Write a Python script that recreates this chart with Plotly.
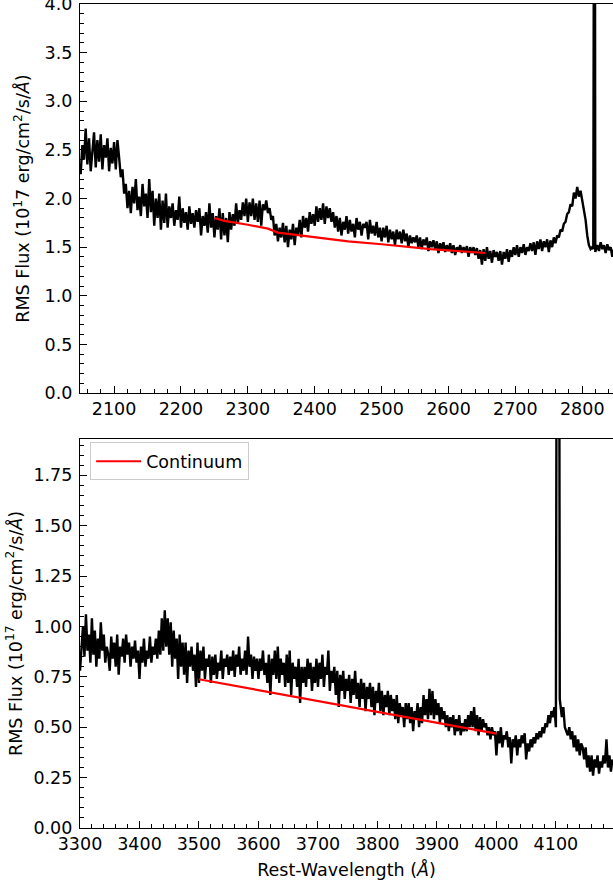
import plotly.graph_objects as go
from plotly.subplots import make_subplots

STEP = 2.5

# ---------------- Top panel (Mg II region) ----------------
# flux sampled every 2.5 A starting at 2050 A, up to 2815 A
flux_top_main = [
    2.25, 2.55, 2.40, 2.72, 2.35, 2.62, 2.28, 2.50, 2.68, 2.32,
    2.60, 2.38, 2.66, 2.30, 2.55, 2.42, 2.62, 2.28, 2.52, 2.36,
    2.58, 2.30, 2.60, 2.42, 2.22, 2.30, 2.05, 2.15, 1.90, 2.08,
    1.85, 2.12, 1.95, 2.20, 1.88, 2.02, 1.82, 2.15, 1.92, 2.05,
    1.80, 2.20, 1.86, 2.08, 1.72, 2.00, 1.80, 2.05, 1.68, 1.98,
    1.75, 2.05, 1.70, 1.92, 1.80, 1.95, 1.72, 1.88, 1.78, 2.02,
    1.70, 1.90, 1.75, 1.86, 1.68, 1.92, 1.74, 1.85, 1.70, 1.88,
    1.76, 1.90, 1.62, 1.82, 1.72, 1.86, 1.65, 1.95, 1.70, 1.85,
    1.60, 1.82, 1.68, 1.90, 1.58, 1.85, 1.62, 1.80, 1.55, 1.86,
    1.68, 1.84, 1.72, 1.95, 1.74, 1.88, 1.78, 1.96, 1.82, 2.00,
    1.76, 1.96, 1.82, 2.00, 1.78, 1.95, 1.76, 1.98, 1.72, 1.94,
    1.88, 1.98, 1.85, 1.90, 1.78, 1.82, 1.62, 1.74, 1.56, 1.70,
    1.60, 1.75, 1.55, 1.72, 1.50, 1.68, 1.58, 1.74, 1.52, 1.70,
    1.62, 1.78, 1.60, 1.82, 1.70, 1.80, 1.66, 1.86, 1.74, 1.84,
    1.72, 1.92, 1.76, 1.90, 1.78, 1.95, 1.74, 1.92, 1.80, 1.90,
    1.76, 1.86, 1.70, 1.82, 1.66, 1.80, 1.62, 1.76, 1.68, 1.82,
    1.64, 1.78, 1.66, 1.74, 1.60, 1.80, 1.68, 1.76, 1.62, 1.74,
    1.70, 1.76, 1.58, 1.78, 1.64, 1.72, 1.62, 1.76, 1.60, 1.70,
    1.56, 1.70, 1.60, 1.72, 1.55, 1.68, 1.58, 1.66, 1.52, 1.68,
    1.58, 1.66, 1.54, 1.68, 1.56, 1.64, 1.50, 1.62, 1.54, 1.60,
    1.55, 1.62, 1.50, 1.60, 1.48, 1.58, 1.52, 1.60, 1.46, 1.56,
    1.50, 1.57, 1.48, 1.56, 1.44, 1.54, 1.48, 1.55, 1.45, 1.52,
    1.46, 1.54, 1.44, 1.52, 1.42, 1.50, 1.46, 1.52, 1.44, 1.50,
    1.45, 1.51, 1.40, 1.50, 1.44, 1.50, 1.42, 1.49, 1.38, 1.47,
    1.32, 1.48, 1.36, 1.50, 1.38, 1.46, 1.34, 1.47, 1.40, 1.45,
    1.36, 1.46, 1.32, 1.45, 1.38, 1.48, 1.35, 1.47, 1.40, 1.50,
    1.42, 1.52, 1.40, 1.50, 1.44, 1.53, 1.42, 1.50, 1.46, 1.54,
    1.46, 1.55, 1.42, 1.56, 1.48, 1.58, 1.46, 1.56, 1.50, 1.58,
    1.45, 1.57, 1.50, 1.60, 1.54, 1.62, 1.60, 1.68, 1.66, 1.74,
    1.76, 1.84, 1.86, 1.94, 1.92, 2.06, 2.00, 2.12, 2.02, 2.08,
    1.98, 1.90, 1.78, 1.62, 1.52, 1.48, 1.50,
]
# narrow emission line near 2818 A
wave_top_line = [2816.5, 2817.5, 2818.5, 2819.5]
flux_top_line = [1.48, 9.0, 9.0, 1.45]
# red side after the narrow line, every 2.5 A from 2822.5 A
flux_top_tail = [1.52, 1.46, 1.55, 1.48, 1.52, 1.44, 1.53, 1.47, 1.50, 1.40, 1.48, 1.45]

cont_top_wave = [2250, 2265, 2300, 2330, 2345, 2400, 2450, 2500, 2573, 2655]
cont_top_flux = [1.80, 1.77, 1.73, 1.69, 1.65, 1.60, 1.56, 1.53, 1.48, 1.44]

# ---------------- Bottom panel ----------------
# flux sampled every 2.5 A starting at 3300 A, up to 4097.5 A
flux_bot_main = [
    0.78, 0.92, 1.00, 0.85, 1.06, 0.88, 0.96, 0.82, 1.04, 0.86,
    0.98, 0.80, 0.94, 0.84, 1.02, 0.88, 0.96, 0.82, 0.90, 0.86,
    0.78, 0.95, 0.84, 0.92, 0.80, 0.96, 0.76, 0.90, 0.85, 0.94,
    0.82, 0.96, 0.86, 0.92, 0.80, 0.90, 0.84, 0.93, 0.82, 0.88,
    0.74, 0.90, 0.82, 0.94, 0.80, 0.88, 0.84, 0.95, 0.82, 0.90,
    0.86, 0.94, 0.84, 0.98, 0.86, 1.04, 0.88, 1.08, 0.90, 1.04,
    0.86, 1.02, 0.80, 0.98, 0.84, 0.94, 0.74, 0.96, 0.80, 0.92,
    0.76, 0.92, 0.72, 0.88, 0.80, 0.90, 0.78, 0.86, 0.70, 0.92,
    0.72, 0.88, 0.78, 0.90, 0.74, 0.84, 0.80, 0.86, 0.72, 0.85,
    0.76, 0.86, 0.74, 0.82, 0.78, 0.88, 0.74, 0.84, 0.80, 0.86,
    0.76, 0.85, 0.78, 0.88, 0.75, 0.86, 0.80, 0.90, 0.76, 0.84,
    0.78, 0.88, 0.76, 0.95, 0.80, 0.86, 0.74, 0.85, 0.78, 0.84,
    0.74, 0.84, 0.78, 0.88, 0.76, 0.82, 0.72, 0.86, 0.66, 0.84,
    0.76, 0.88, 0.74, 0.90, 0.72, 0.84, 0.76, 0.82, 0.70, 0.86,
    0.72, 0.88, 0.66, 0.82, 0.74, 0.80, 0.70, 0.84, 0.62, 0.80,
    0.72, 0.80, 0.70, 0.84, 0.74, 0.82, 0.68, 0.80, 0.72, 0.84,
    0.70, 0.82, 0.74, 0.86, 0.70, 0.80, 0.76, 0.88, 0.68, 0.78,
    0.72, 0.80, 0.66, 0.78, 0.60, 0.76, 0.68, 0.78, 0.64, 0.74,
    0.68, 0.76, 0.62, 0.74, 0.66, 0.78, 0.64, 0.72, 0.60, 0.74,
    0.64, 0.72, 0.58, 0.70, 0.64, 0.72, 0.60, 0.70, 0.56, 0.68,
    0.62, 0.72, 0.58, 0.68, 0.56, 0.66, 0.60, 0.68, 0.56, 0.66,
    0.58, 0.64, 0.54, 0.66, 0.52, 0.62, 0.56, 0.60, 0.50, 0.62,
    0.54, 0.62, 0.52, 0.60, 0.48, 0.58, 0.54, 0.62, 0.50, 0.60,
    0.52, 0.66, 0.56, 0.64, 0.54, 0.69, 0.56, 0.68, 0.54, 0.64,
    0.56, 0.62, 0.52, 0.60, 0.54, 0.58, 0.50, 0.56, 0.48, 0.55,
    0.50, 0.56, 0.46, 0.54, 0.48, 0.56, 0.46, 0.52, 0.48, 0.54,
    0.48, 0.56, 0.50, 0.58, 0.50, 0.60, 0.48, 0.56, 0.46, 0.55,
    0.48, 0.54, 0.50, 0.52, 0.46, 0.50, 0.44, 0.50, 0.46, 0.48,
    0.36, 0.48, 0.42, 0.50, 0.40, 0.46, 0.44, 0.48, 0.40, 0.45,
    0.32, 0.44, 0.40, 0.46, 0.36, 0.44, 0.40, 0.46, 0.42, 0.47,
    0.34, 0.42, 0.38, 0.44, 0.40, 0.45, 0.42, 0.47, 0.44, 0.48,
    0.45, 0.50, 0.47, 0.52, 0.50, 0.56, 0.52, 0.58, 0.55, 0.60,
]
# narrow emission line near 4103 A
wave_bot_line = [4100.0, 4101.5, 4105.5, 4106.5]
flux_bot_line = [0.50, 3.00, 3.00, 0.64]
# after the narrow line, every 2.5 A from 4107.5 A
flux_bot_tail = [
    0.62, 0.55, 0.60, 0.50, 0.48, 0.46, 0.50, 0.44, 0.48, 0.40,
    0.46, 0.38, 0.44, 0.36, 0.42, 0.40, 0.34, 0.40, 0.30, 0.36,
    0.28, 0.36, 0.26, 0.34, 0.30, 0.36, 0.27, 0.33, 0.30, 0.36,
    0.32, 0.44, 0.30, 0.36, 0.28, 0.34,
]

cont_bot_wave = [3500, 4000]
cont_bot_flux = [0.738, 0.468]

# wavelength sampling grids
wave_top = ([2050 + STEP * i for i in range(len(flux_top_main))] + wave_top_line
            + [2822.5 + STEP * i for i in range(len(flux_top_tail))])
flux_top = flux_top_main + flux_top_line + flux_top_tail
wave_bot = ([3300 + STEP * i for i in range(len(flux_bot_main))] + wave_bot_line
            + [4107.5 + STEP * i for i in range(len(flux_bot_tail))])
flux_bot = flux_bot_main + flux_bot_line + flux_bot_tail

FONT = "DejaVu Sans"
FS = 17.5

fig = make_subplots(rows=2, cols=1, vertical_spacing=0.0)

fig.add_trace(go.Scatter(x=wave_top, y=flux_top, mode="lines",
                         line=dict(color="black", width=2.4), showlegend=False),
              row=1, col=1)
fig.add_trace(go.Scatter(x=cont_top_wave, y=cont_top_flux, mode="lines",
                         line=dict(color="red", width=2.2), showlegend=False),
              row=1, col=1)
fig.add_trace(go.Scatter(x=wave_bot, y=flux_bot, mode="lines",
                         line=dict(color="black", width=2.4), showlegend=False),
              row=2, col=1)
fig.add_trace(go.Scatter(x=cont_bot_wave, y=cont_bot_flux, mode="lines",
                         name="Continuum",
                         line=dict(color="red", width=2.2), showlegend=True),
              row=2, col=1)

axis_common = dict(showline=True, linecolor="black", linewidth=1.3,
                   ticks="inside", ticklen=7, tickwidth=1.2, tickcolor="black",
                   showgrid=False, zeroline=False, ticklabeloverflow="allow",
                   automargin=False,
                   tickfont=dict(family=FONT, size=FS, color="black"))

fig.update_xaxes(**axis_common, mirror=True, dtick=100, tick0=0,
                 minor=dict(dtick=20, tick0=0, ticks="inside", ticklen=4,
                            tickwidth=1, tickcolor="black"))
fig.update_yaxes(**axis_common, ticklabelstandoff=3)

fig.update_xaxes(range=[2049, 2846], domain=[0, 1], row=1, col=1)
fig.update_xaxes(range=[3300, 4196], domain=[0, 1], row=2, col=1,
                 title=dict(text="Rest-Wavelength (<i>Å</i>)",
                            font=dict(family=FONT, size=FS, color="black"),
                            standoff=10))

fig.update_yaxes(range=[0, 4.0005], dtick=0.5, tick0=0, tickformat=".1f",
                 domain=[0.5279, 1],
                 minor=dict(dtick=0.1, ticks="inside", ticklen=4, tickwidth=1,
                            tickcolor="black"),
                 title=dict(text="RMS Flux (10<sup>1</sup>7 erg/cm<sup>2</sup>/s/<i>Å</i>)",
                            font=dict(family=FONT, size=FS, color="black"),
                            standoff=10),
                 row=1, col=1)
fig.update_yaxes(range=[0, 1.93], dtick=0.25, tick0=0, tickformat=".2f",
                 domain=[0, 0.4721],
                 minor=dict(dtick=0.05, ticks="inside", ticklen=4, tickwidth=1,
                            tickcolor="black"),
                 title=dict(text="RMS Flux (10<sup>17</sup> erg/cm<sup>2</sup>/s/<i>Å</i>)",
                            font=dict(family=FONT, size=FS, color="black"),
                            standoff=6),
                 row=2, col=1)

fig.update_layout(
    width=613, height=888,
    margin=dict(l=80, r=0, t=4, b=60),
    paper_bgcolor="white", plot_bgcolor="white",
    font=dict(family=FONT, size=FS, color="black"),
    legend=dict(x=0.019, y=0.468, xanchor="left", yanchor="top",
                bgcolor="rgba(255,255,255,0.8)", bordercolor="#cccccc",
                borderwidth=1, itemwidth=45,
                font=dict(family=FONT, size=FS, color="black")),
)

fig.write_html("out.html")
